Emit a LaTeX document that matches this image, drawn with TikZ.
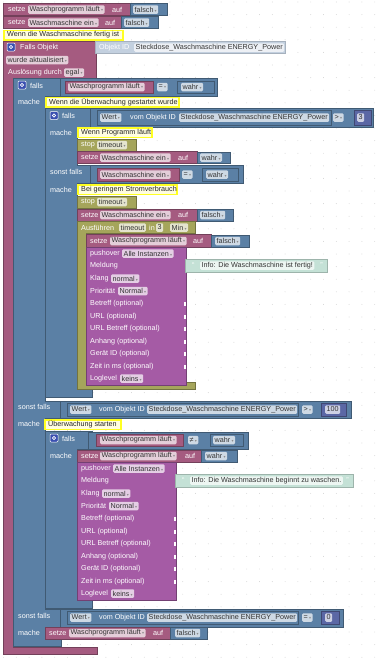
\documentclass[tikz,border=0pt]{standalone}
\usepackage{fontspec}
\setmainfont{Liberation Sans}
\newfontfamily\symf{DejaVu Sans}
\usetikzlibrary{positioning}

\definecolor{setzecol}{HTML}{A55B80}
\definecolor{logiccol}{HTML}{5B80A5}
\definecolor{pushcol}{HTML}{A55BA5}
\definecolor{timecol}{HTML}{A5A55B}
\definecolor{textcol}{HTML}{C4E1D6}
\definecolor{idcol}{HTML}{C3D0DF}
\definecolor{numcol}{HTML}{5B67A5}
\definecolor{notecol}{HTML}{FFFF22}
\definecolor{gearcol}{HTML}{3A4FB0}

\newcommand{\blkfont}{\fontsize{7.2}{8}\selectfont}
\newcommand{\ddarrow}{\,{\symf\fontsize{4}{4}\selectfont\textcolor{black!45}{▾}}}
\newcommand{\blk}[5]{\filldraw[fill=#5,draw=#5!70!black,line width=.4pt] (#1,#2) rectangle (#3,#4);}
\newcommand{\gear}[2]{\filldraw[fill=gearcol,draw=white,line width=.5pt,rounded corners=1pt] ({#1-4},{#2-4}) rectangle ({#1+4},{#2+4});
  \draw[white,line width=.7pt] (#1,#2) circle (1.7);}
\newcommand{\cmtblk}[6]{\fill[notecol] (#1,#2) rectangle (#3,#4);
  \fill[yellow!12] ({#1+2},{#2+1.5}) rectangle ({#3-2},{#4-1.5});
  \node[lab,text=black!85] (#5) at ({#1+4},{#2+5.5}) {#6};}
% pushover block: x, top, right, tag, message, right end of message
\newcommand{\pushblk}[6]{%
  \blk{#1}{#2}{#3}{#2+138}{pushcol}
  \node[lab] (#4p) at ({#1+4},{#2+6.5}) {pushover};
  \node[chip] (#4i) at ({#1+36},{#2+6.5}) {Alle Instanzen\ddarrow};
  \node[lab] (#4m) at ({#1+4},{#2+19}) {Meldung};
  \filldraw[fill=textcol,draw=textcol!80!black,line width=.4pt] ({#3-1},{#2+12.5}) rectangle (#6,{#2+25});
  \node[lab] (#4q) at ({#3+6},{#2+18.5}) {“};
  \node[chip] (#4t) at ({#3+14},{#2+18.5}) {#5};
  \node[lab,anchor=east] (#4r) at ({#6-4},{#2+18.5}) {”};
  \node[lab] (#4k) at ({#1+4},{#2+31.5}) {Klang};
  \node[chip] (#4kv) at ({#1+25},{#2+31.5}) {normal\ddarrow};
  \node[lab] (#4pr) at ({#1+4},{#2+44}) {Priorität};
  \node[chip] (#4pv) at ({#1+32},{#2+44}) {Normal\ddarrow};
  \foreach \t/\d [count=\k] in {Betreff (optional)/57,URL (optional)/69.5,URL Betreff (optional)/82,
      Anhang (optional)/94.5,Gerät ID (optional)/107,Zeit in ms (optional)/119.5}{
    \node[lab] (#4o\k) at ({#1+4},{#2+\d}) {\t};
    \fill[white] ({#3-2.5},{#2+\d-2}) rectangle (#3,{#2+\d+2});}
  \node[lab] (#4l) at ({#1+4},{#2+131.5}) {Loglevel};
  \node[chip] (#4lv) at ({#1+34},{#2+131.5}) {keins\ddarrow};
}

\begin{document}
\begin{tikzpicture}[x=1pt,y=-1pt,
  lab/.style={anchor=west,text=white,inner sep=0pt,font=\blkfont},
  chip/.style={anchor=west,fill=white,fill opacity=.7,text opacity=1,text=black!80,
    rounded corners=1.2pt,inner xsep=1.5pt,inner ysep=0pt,minimum height=8.5pt,font=\blkfont}]
\useasboundingbox (0,0) rectangle (378,659);
\fill[white] (0,0) rectangle (378,659);
\foreach \i in {0,...,29} \foreach \j in {0,...,52} \fill[black!18] ({3.5+\i*12.8},{2+\j*12.6}) circle (.45);

% first two setze blocks
\blk{3}{3}{130}{15}{setzecol}
\blk{130}{3}{167}{15}{logiccol}
\node[lab] (s1) at (8,9.5) {setze};
\node[chip] (s1v) at (28,9.5) {Waschprogramm läuft\ddarrow};
\node[lab] (s1a) at (112,9.5) {auf};
\node[chip] (s1w) at (133,9.5) {falsch\ddarrow};
\blk{3}{16}{121}{28}{setzecol}
\blk{121}{16}{158}{28}{logiccol}
\node[lab] (s2) at (8,22.5) {setze};
\node[chip] (s2v) at (28,22.5) {Waschmaschine ein\ddarrow};
\node[lab] (s2a) at (105,22.5) {auf};
\node[chip] (s2w) at (124,22.5) {falsch\ddarrow};
\cmtblk{3}{29.5}{124}{40.5}{n1}{Wenn die Waschmaschine fertig ist}

% trigger
\filldraw[fill=setzecol,draw=setzecol!70!black,line width=.4pt] (3,41) -- (96,41) -- (96,78) -- (13,78) -- (13,647)
  -- (97,647) -- (97,654) -- (3,654) -- cycle;
\filldraw[fill=idcol,draw=idcol!85!black,line width=.4pt] (95,41) rectangle (285,53);
\gear{11}{47}
\node[lab] (tr1) at (20,47.5) {Falls Objekt};
\node[lab] (tr2) at (99,47.5) {Objekt ID};
\node[chip] (tr3) at (134,47.5) {Steckdose\_Waschmaschine ENERGY\_Power};
\node[chip] (tr4) at (6,60) {wurde aktualisiert\ddarrow};
\node[lab] (tr5) at (8,72.5) {Auslösung durch};
\node[chip] (tr6) at (64,72.5) {egal\ddarrow};

% outer falls
\filldraw[fill=logiccol,draw=logiccol!70!black,line width=.4pt] (13,78) -- (61,78) -- (61,96) -- (45,96) -- (45,401)
  -- (61,401) -- (61,418) -- (45,418) -- (45,609) -- (61,609) -- (61,627) -- (45,627) -- (45,639)
  -- (61,639) -- (61,646) -- (13,646) -- cycle;
\blk{60}{78}{217}{96}{logiccol}
\blk{65}{81}{153}{93}{setzecol}
\gear{22}{85}
\node[lab] (f1) at (30,85.5) {falls};
\node[chip] (f1v) at (68,87) {Waschprogramm läuft\ddarrow};
\node[chip] (f1o) at (157,87) {=\ddarrow};
\blk{177}{81}{214}{93}{logiccol}
\node[chip] (f1w) at (181,87) {wahr\ddarrow};
\node[lab] (m1) at (18,102) {mache};
\cmtblk{45}{96.5}{180}{107.5}{n2}{Wenn die Überwachung gestartet wurde}

% inner falls 1
\filldraw[fill=logiccol,draw=logiccol!70!black,line width=.4pt] (45,108) -- (92,108) -- (92,127) -- (77,127) -- (77,165)
  -- (92,165) -- (92,183) -- (77,183) -- (77,389) -- (92,389) -- (92,397) -- (45,397) -- cycle;
\blk{90}{108}{373}{127}{logiccol}
\blk{97}{110}{331}{125}{logiccol}
\gear{54}{115.5}
\node[lab] (f2) at (62,116) {falls};
\node[chip] (f2a) at (100,117.5) {Wert\ddarrow};
\node[lab] (f2b) at (130,117.5) {vom Objekt ID};
\node[chip] (f2c) at (179,117.5) {Steckdose\_Waschmaschine ENERGY\_Power};
\node[chip] (f2o) at (333,117.5) {>\ddarrow};
\blk{354}{110}{371}{125}{numcol}
\node[chip] (f2n) at (357,117.5) {3};
\node[lab] (m2) at (50,133) {mache};
\cmtblk{77}{127}{153}{138}{n3}{Wenn Programm läuft}
\blk{77}{139}{136}{151}{timecol}
\node[lab] (st1) at (81,145) {stop};
\node[chip] (st1v) at (97,145) {timeout\ddarrow};
\blk{77}{151}{197}{163}{setzecol}
\blk{197}{152}{230}{163}{logiccol}
\node[lab] (s3) at (81,157.5) {setze};
\node[chip] (s3v) at (100,157.5) {Waschmaschine ein\ddarrow};
\node[lab] (s3a) at (178,157.5) {auf};
\node[chip] (s3w) at (200,157.5) {wahr\ddarrow};
\node[lab] (sf1) at (50,172) {sonst falls};
\blk{90}{165}{243}{183}{logiccol}
\blk{97}{168}{179}{181}{setzecol}
\node[chip] (sf1v) at (100,174.5) {Waschmaschine ein\ddarrow};
\node[chip] (sf1o) at (182,174.5) {=\ddarrow};
\blk{202}{168}{238}{181}{logiccol}
\node[chip] (sf1w) at (206,174.5) {wahr\ddarrow};
\node[lab] (m3) at (50,190) {mache};
\cmtblk{77}{184}{178}{195}{n4}{Bei geringem Stromverbrauch}
\blk{77}{196}{136}{208}{timecol}
\node[lab] (st2) at (81,202) {stop};
\node[chip] (st2v) at (97,202) {timeout\ddarrow};
\blk{77}{209}{197}{221}{setzecol}
\blk{197}{209}{233}{221}{logiccol}
\node[lab] (s4) at (81,215) {setze};
\node[chip] (s4v) at (100,215) {Waschmaschine ein\ddarrow};
\node[lab] (s4a) at (178,215) {auf};
\node[chip] (s4w) at (200,215) {falsch\ddarrow};
% Ausfuehren
\filldraw[fill=timecol,draw=timecol!70!black,line width=.4pt] (77,221) -- (195,221) -- (195,233) -- (86,233) -- (86,382)
  -- (195,382) -- (195,389) -- (77,389) -- cycle;
\node[lab] (ex) at (81,227.5) {Ausführen};
\node[chip] (ex1) at (119,227.5) {timeout};
\node[lab] (ex2) at (149,227.5) {in};
\node[chip] (ex3) at (156,227.5) {3};
\node[chip] (ex4) at (170,227.5) {Min\ddarrow};
\blk{86}{234}{211}{247}{setzecol}
\blk{211}{235}{249}{247}{logiccol}
\node[lab] (s5) at (90,241) {setze};
\node[chip] (s5v) at (110,241) {Waschprogramm läuft\ddarrow};
\node[lab] (s5a) at (193,241) {auf};
\node[chip] (s5w) at (215,241) {falsch\ddarrow};
\pushblk{86}{247}{186}{pa}{Info: Die Waschmaschine ist fertig!}{327}

% outer sonst falls
\node[lab] (sf2) at (18,407) {sonst falls};
\blk{60}{401}{351}{418}{logiccol}
\blk{67}{403}{298}{416}{logiccol}
\node[chip] (sf2a) at (70,409.5) {Wert\ddarrow};
\node[lab] (sf2b) at (99,409.5) {vom Objekt ID};
\node[chip] (sf2c) at (147,409.5) {Steckdose\_Waschmaschine ENERGY\_Power};
\node[chip] (sf2o) at (302,409.5) {>\ddarrow};
\blk{321}{403}{346}{416}{numcol}
\node[chip] (sf2n) at (325,409.5) {100};
\node[lab] (m4) at (18,424) {mache};
\cmtblk{44}{419}{122}{430}{n5}{Überwachung starten}

% inner falls 2
\filldraw[fill=logiccol,draw=logiccol!70!black,line width=.4pt] (45,431) -- (92,431) -- (92,449) -- (77,449) -- (77,600)
  -- (92,600) -- (92,608) -- (45,608) -- cycle;
\blk{88}{432}{248}{449}{logiccol}
\blk{96}{434}{183}{446}{setzecol}
\gear{54}{438}
\node[lab] (f3) at (62,438.5) {falls};
\node[chip] (f3v) at (100,440) {Waschprogramm läuft\ddarrow};
\node[chip] (f3o) at (188,440) {≠\ddarrow};
\blk{210}{434}{243}{446}{logiccol}
\node[chip] (f3w) at (213,440) {wahr\ddarrow};
\node[lab] (m5) at (50,456) {mache};
\blk{77}{450}{201}{462}{setzecol}
\blk{201}{450}{237}{462}{logiccol}
\node[lab] (s6) at (81,456) {setze};
\node[chip] (s6v) at (100,456) {Waschprogramm läuft\ddarrow};
\node[lab] (s6a) at (185,456) {auf};
\node[chip] (s6w) at (205,456) {wahr\ddarrow};
\pushblk{77}{462}{176}{pb}{Info: Die Waschmaschine beginnt zu waschen.}{353}

% last sonst falls
\node[lab] (sf3) at (18,616) {sonst falls};
\blk{60}{609}{343}{627}{logiccol}
\blk{67}{611}{298}{624}{logiccol}
\node[chip] (sf3a) at (70,617.5) {Wert\ddarrow};
\node[lab] (sf3b) at (99,617.5) {vom Objekt ID};
\node[chip] (sf3c) at (147,617.5) {Steckdose\_Waschmaschine ENERGY\_Power};
\node[chip] (sf3o) at (302,617.5) {=\ddarrow};
\blk{321}{611}{339}{624}{numcol}
\node[chip] (sf3n) at (325,617.5) {0};
\node[lab] (m6) at (18,633) {mache};
\blk{45}{627}{170}{639}{setzecol}
\blk{170}{627}{207}{639}{logiccol}
\node[lab] (s7) at (49,633) {setze};
\node[chip] (s7v) at (69,633) {Waschprogramm läuft\ddarrow};
\node[lab] (s7a) at (153,633) {auf};
\node[chip] (s7w) at (175,633) {falsch\ddarrow};
\end{tikzpicture}
\end{document}
